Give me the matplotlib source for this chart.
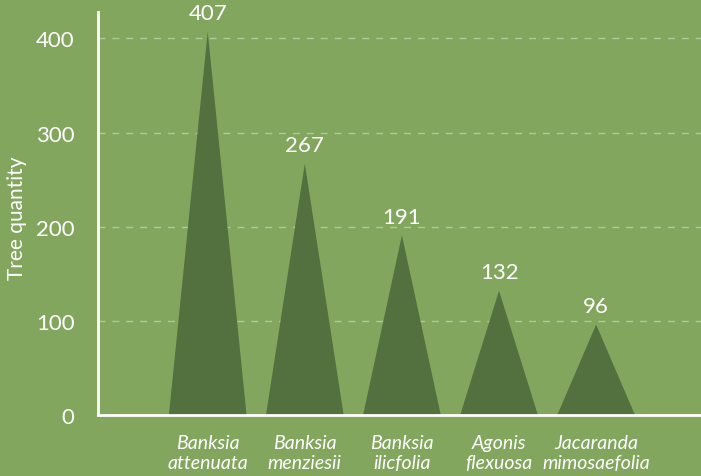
import matplotlib.pyplot as plt
import numpy as np

plt.rcParams['font.family'] = ['Lato', 'DejaVu Sans']

species = ['Banksia\nattenuata', 'Banksia\nmenziesii', 'Banksia\nilicfolia',
           'Agonis\nflexuosa', 'Jacaranda\nmimosaefolia']
quantity = [407, 267, 191, 132, 96]
yticks = [0, 100, 200, 300, 400]

bg = '#83a65f'
dark = '#52713e'

fig = plt.figure(figsize=(7.01, 4.77), dpi=100, facecolor=bg)
ax = fig.add_axes([98 / 701, 1 - 416 / 477, 1 - 98 / 701, (416 - 13) / 477])
ax.set_facecolor(bg)

x = np.arange(len(species))
half = 0.4
for xi, v in zip(x, quantity):
    ax.fill([xi - half, xi, xi + half], [0, v, 0], color=dark, lw=0, zorder=2)
    ax.text(xi, v + 9, str(v), ha='center', va='bottom', color='white', fontsize=16)

ax.set_xlim(-1.13, 5.08)
ax.set_ylim(0, 428)
ax.set_yticks(yticks)
ax.yaxis.grid(True, ls=(0, (5, 5)), color='#b0c99a', lw=1)
ax.set_axisbelow(True)

ax.set_xticks(x)
ax.set_xticklabels(species, style='italic', fontsize=14, color='white', linespacing=1.18)
ax.tick_params(axis='x', length=0, pad=14)
ax.tick_params(axis='y', length=0, pad=17, labelsize=16, labelcolor='white')

for s in ['top', 'right']:
    ax.spines[s].set_visible(False)
for s in ['left', 'bottom']:
    ax.spines[s].set_color('white')
    ax.spines[s].set_linewidth(2)

fig.text(17 / 701, 1 - 218 / 477, 'Tree quantity', rotation=90, color='white',
         fontsize=15, ha='center', va='center')

fig.savefig('out.png', dpi=100, facecolor=bg)
